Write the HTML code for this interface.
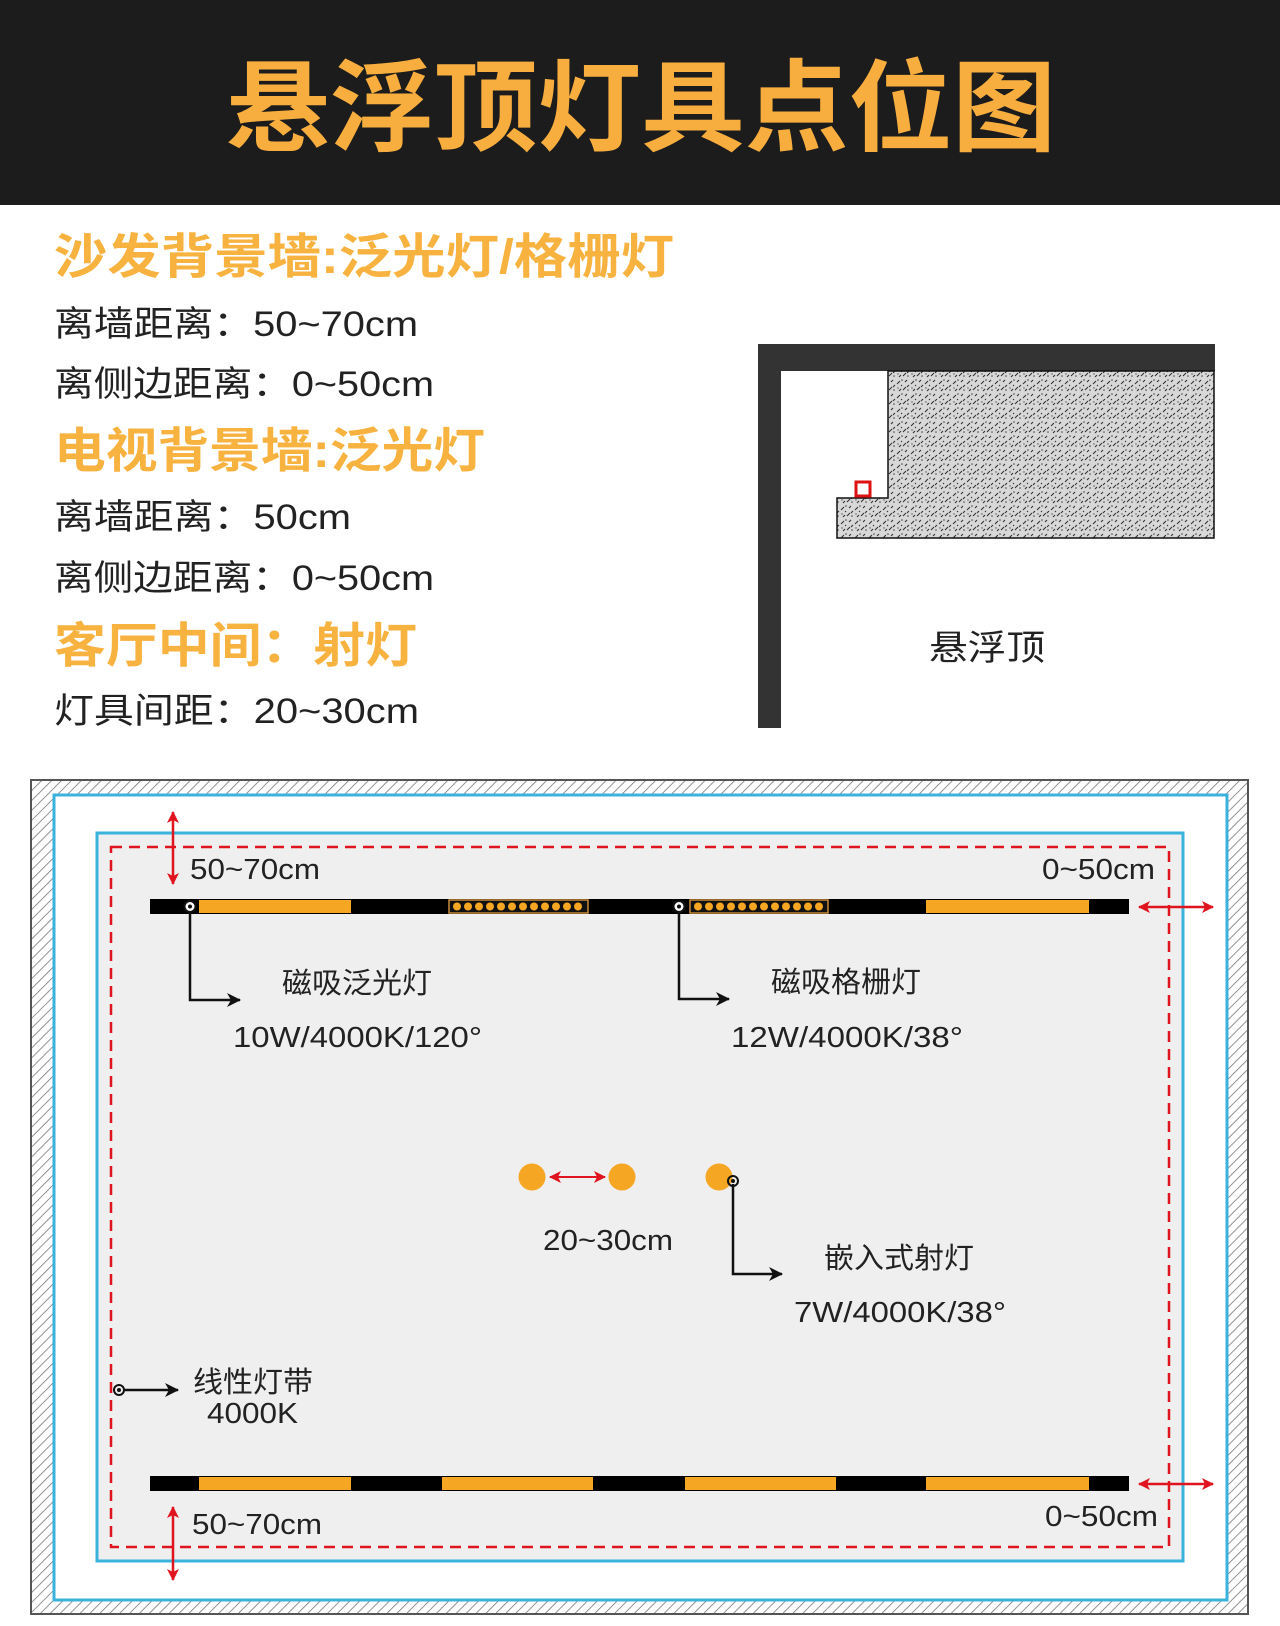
<!DOCTYPE html>
<html><head><meta charset="utf-8">
<style>
html,body{margin:0;padding:0;background:#fff;}
svg{display:block;}
text{font-family:"Liberation Sans","Noto Sans CJK SC",sans-serif;}
</style></head>
<body>
<svg width="1280" height="1626" viewBox="0 0 1280 1626" xmlns="http://www.w3.org/2000/svg">
<defs>
<pattern id="hatch" width="7" height="7" patternUnits="userSpaceOnUse" patternTransform="rotate(45)">
<rect width="7" height="7" fill="#fff"/><line x1="0" y1="0" x2="0" y2="7" stroke="#777" stroke-width="1.6"/>
</pattern>
<pattern id="conc" width="14" height="14" patternUnits="userSpaceOnUse">
<rect width="14" height="14" fill="#d8d8d8"/>
<path d="M1 6l3-3M7 12l3-3M9 4l2-2M3 13l2-2M11 9l2-2M5 8l1-1" stroke="#333" stroke-width="1.1"/>
<circle cx="6" cy="2" r="0.8" fill="#444"/><circle cx="12" cy="12" r="0.8" fill="#444"/><circle cx="2" cy="10" r="0.7" fill="#555"/>
</pattern>
<marker id="ab" markerWidth="14" markerHeight="14" refX="13" refY="7" orient="auto" markerUnits="userSpaceOnUse">
<path d="M0 0L14 7L0 14L4 7z" fill="#111"/></marker>
<marker id="ar" markerWidth="12" markerHeight="12" refX="11" refY="6" orient="auto-start-reverse" markerUnits="userSpaceOnUse">
<path d="M0 0L12 6L0 12L3 6z" fill="#e0141e"/></marker>
</defs>

<rect x="0" y="0" width="1280" height="205" fill="#1c1c1c"/>
<text x="226" y="143" font-size="100" font-weight="bold" fill="#f8ae3f" textLength="830" lengthAdjust="spacingAndGlyphs">悬浮顶灯具点位图</text>

<g font-size="48" font-weight="bold" fill="#f7b23f">
<text x="54" y="273" textLength="620" lengthAdjust="spacingAndGlyphs">沙发背景墙:泛光灯/格栅灯</text>
<text x="54" y="467" textLength="431" lengthAdjust="spacingAndGlyphs">电视背景墙:泛光灯</text>
<text x="54" y="662" textLength="363" lengthAdjust="spacingAndGlyphs">客厅中间：射灯</text>
</g>
<g font-size="35" fill="#222">
<text x="54" y="336" textLength="364" lengthAdjust="spacingAndGlyphs">离墙距离：50~70cm</text>
<text x="54" y="396" textLength="380" lengthAdjust="spacingAndGlyphs">离侧边距离：0~50cm</text>
<text x="54" y="529" textLength="297" lengthAdjust="spacingAndGlyphs">离墙距离：50cm</text>
<text x="54" y="590" textLength="380" lengthAdjust="spacingAndGlyphs">离侧边距离：0~50cm</text>
<text x="54" y="723" textLength="365" lengthAdjust="spacingAndGlyphs">灯具间距：20~30cm</text>
</g>

<!-- cross section -->
<rect x="758" y="344" width="457" height="27" fill="#333"/>
<rect x="758" y="344" width="23" height="384" fill="#333"/>
<path d="M888 371H1214V538H837V498H888Z" fill="url(#conc)" stroke="#111" stroke-width="1.5"/>
<rect x="856" y="482" width="14" height="14" fill="#fff" stroke="#d11" stroke-width="3"/>
<text x="929" y="660" font-size="35" fill="#222" textLength="116" lengthAdjust="spacingAndGlyphs">悬浮顶</text>

<!-- plan -->
<rect x="31" y="780" width="1217" height="834" fill="url(#hatch)" stroke="#555" stroke-width="2"/>
<rect x="54" y="795" width="1173" height="805" fill="#fff" stroke="#39b3dc" stroke-width="3"/>
<rect x="97" y="833" width="1086" height="728" fill="#efefef" stroke="#39b3dc" stroke-width="3"/>
<rect x="111" y="847" width="1058" height="700" fill="none" stroke="#e0141e" stroke-width="2.5" stroke-dasharray="11,7"/>

<!-- top track -->
<rect x="150" y="899" width="979" height="15" fill="#000"/>
<rect x="199" y="900" width="152" height="13" fill="#f5a623"/>
<rect x="926" y="900" width="163" height="13" fill="#f5a623"/>
<rect x="449" y="900" width="139" height="13" fill="#111" stroke="#c98a3a" stroke-width="1.5"/>
<rect x="690" y="900" width="138" height="13" fill="#111" stroke="#c98a3a" stroke-width="1.5"/>
<g fill="#f5a623">
<circle cx="457" cy="906.5" r="4"/><circle cx="468" cy="906.5" r="4"/><circle cx="479" cy="906.5" r="4"/><circle cx="490" cy="906.5" r="4"/><circle cx="501" cy="906.5" r="4"/><circle cx="512" cy="906.5" r="4"/><circle cx="523" cy="906.5" r="4"/><circle cx="534" cy="906.5" r="4"/><circle cx="545" cy="906.5" r="4"/><circle cx="556" cy="906.5" r="4"/><circle cx="567" cy="906.5" r="4"/><circle cx="578" cy="906.5" r="4"/>
<circle cx="698" cy="906.5" r="4"/><circle cx="709" cy="906.5" r="4"/><circle cx="720" cy="906.5" r="4"/><circle cx="731" cy="906.5" r="4"/><circle cx="742" cy="906.5" r="4"/><circle cx="753" cy="906.5" r="4"/><circle cx="764" cy="906.5" r="4"/><circle cx="775" cy="906.5" r="4"/><circle cx="786" cy="906.5" r="4"/><circle cx="797" cy="906.5" r="4"/><circle cx="808" cy="906.5" r="4"/><circle cx="819" cy="906.5" r="4"/>
</g>
<circle cx="190" cy="906.5" r="5.5" fill="#fff" stroke="#111" stroke-width="2"/><circle cx="190" cy="906.5" r="2" fill="#111"/>
<circle cx="679" cy="906.5" r="5.5" fill="#fff" stroke="#111" stroke-width="2"/><circle cx="679" cy="906.5" r="2" fill="#111"/>
<path d="M190 912V1000H240" fill="none" stroke="#111" stroke-width="2.5" marker-end="url(#ab)"/>
<path d="M679 912V999H729" fill="none" stroke="#111" stroke-width="2.5" marker-end="url(#ab)"/>
<g font-size="29" fill="#222">
<text x="282" y="993" textLength="150" lengthAdjust="spacingAndGlyphs">磁吸泛光灯</text>
<text x="233" y="1047" textLength="249" lengthAdjust="spacingAndGlyphs">10W/4000K/120°</text>
<text x="771" y="992" textLength="150" lengthAdjust="spacingAndGlyphs">磁吸格栅灯</text>
<text x="731" y="1047" textLength="232" lengthAdjust="spacingAndGlyphs">12W/4000K/38°</text>
<text x="543" y="1250" textLength="130" lengthAdjust="spacingAndGlyphs">20~30cm</text>
<text x="824" y="1268" textLength="150" lengthAdjust="spacingAndGlyphs">嵌入式射灯</text>
<text x="794" y="1322" textLength="212" lengthAdjust="spacingAndGlyphs">7W/4000K/38°</text>
<text x="193" y="1392" textLength="120" lengthAdjust="spacingAndGlyphs">线性灯带</text>
<text x="207" y="1423" textLength="91" lengthAdjust="spacingAndGlyphs">4000K</text>
</g>

<!-- spots -->
<circle cx="532" cy="1177" r="13.5" fill="#f5a623"/>
<circle cx="622" cy="1177" r="13.5" fill="#f5a623"/>
<circle cx="719" cy="1177" r="13.5" fill="#f5a623"/>
<line x1="550" y1="1177" x2="605" y2="1177" stroke="#e0141e" stroke-width="2" marker-start="url(#ar)" marker-end="url(#ar)"/>
<circle cx="733" cy="1181" r="5" fill="none" stroke="#111" stroke-width="2"/><circle cx="733" cy="1181" r="2" fill="#111"/>
<path d="M733 1184V1274H782" fill="none" stroke="#111" stroke-width="2.5" marker-end="url(#ab)"/>

<!-- linear -->
<circle cx="119" cy="1390" r="5" fill="none" stroke="#111" stroke-width="2"/><circle cx="119" cy="1390" r="2" fill="#111"/>
<line x1="124" y1="1390" x2="178" y2="1390" stroke="#111" stroke-width="2.5" marker-end="url(#ab)"/>

<!-- bottom track -->
<rect x="150" y="1476" width="979" height="15" fill="#000"/>
<rect x="199" y="1477" width="152" height="13" fill="#f5a623"/>
<rect x="442" y="1477" width="151" height="13" fill="#f5a623"/>
<rect x="685" y="1477" width="151" height="13" fill="#f5a623"/>
<rect x="926" y="1477" width="163" height="13" fill="#f5a623"/>

<!-- dimension arrows -->
<line x1="173" y1="812" x2="173" y2="884" stroke="#e0141e" stroke-width="2.5" marker-start="url(#ar)" marker-end="url(#ar)"/>
<line x1="173" y1="1507" x2="173" y2="1580" stroke="#e0141e" stroke-width="2.5" marker-start="url(#ar)" marker-end="url(#ar)"/>
<line x1="1139" y1="907" x2="1213" y2="907" stroke="#e0141e" stroke-width="2.5" marker-start="url(#ar)" marker-end="url(#ar)"/>
<line x1="1139" y1="1484" x2="1213" y2="1484" stroke="#e0141e" stroke-width="2.5" marker-start="url(#ar)" marker-end="url(#ar)"/>
<g font-size="29" fill="#222">
<text x="190" y="879" textLength="130" lengthAdjust="spacingAndGlyphs">50~70cm</text>
<text x="1042" y="879" textLength="113" lengthAdjust="spacingAndGlyphs">0~50cm</text>
<text x="192" y="1534" textLength="130" lengthAdjust="spacingAndGlyphs">50~70cm</text>
<text x="1045" y="1526" textLength="113" lengthAdjust="spacingAndGlyphs">0~50cm</text>
</g>
</svg>
</body></html>
